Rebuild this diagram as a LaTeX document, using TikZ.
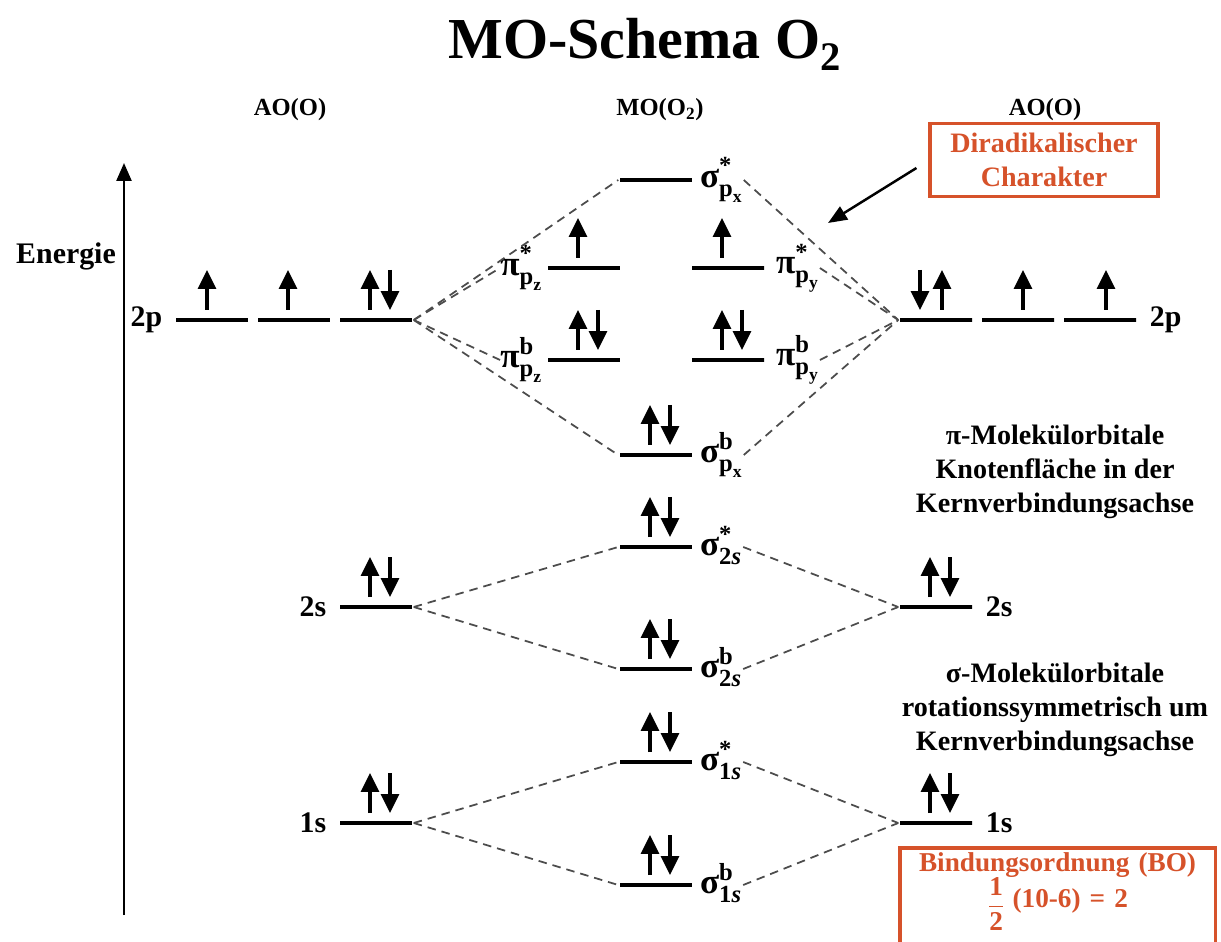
\documentclass[tikz,border=0pt]{standalone}
\usepackage{amsmath,amssymb}
\usepackage{fontspec}
\setmainfont{Liberation Serif}
\usetikzlibrary{arrows.meta}
\usetikzlibrary{positioning}

\definecolor{orred}{RGB}{214,82,42}

\tikzset{
  lvl/.style={draw, line width=2pt, minimum width=1.44cm, minimum height=0pt, inner sep=0pt},
  spin/.style={-{Triangle[width=0.36cm,length=0.38cm]}, line width=1.8pt},
  corr/.style={dash pattern=on 0.17cm off 0.12cm, line width=1pt, black!70},
  lab/.style={font=\bfseries\fontsize{17}{20}\selectfont, inner sep=1pt},
  mo/.style={font=\bfseries\fontsize{20}{22}\selectfont, inner sep=0pt},
  info/.style={font=\bfseries\fontsize{16}{19.5}\selectfont, align=center},
  redbox/.style={draw=orred, line width=1.8pt, text=orred, align=center,
    font=\bfseries\fontsize{16}{19}\selectfont}
}

% electrons: node, x offset (px)
\newcommand{\eup}[2]{\draw[spin] (#1.center) ++(#2,-10) -- ++(0,-40);}
\newcommand{\edown}[2]{\draw[spin] (#1.center) ++(#2,-50) -- ++(0,40);}
\newcommand{\epair}[1]{\eup{#1}{-6}\edown{#1}{14}}
% orbital label: symbol, upper, lower, sub-lower
\newcommand{\orb}[4]{$\text{#1}^{\text{#2}}_{\text{#3}_{\text{#4}}}$}

\begin{document}
\begin{tikzpicture}[x=0.02cm, y=-0.02cm]
        \useasboundingbox (0,0) rectangle (1221,942);

        % Headings
        \node[font=\bfseries\fontsize{33}{36}\selectfont] (title) at (645,44) {MO-Schema O\textsubscript{2}};
        \node[lab, font=\bfseries\fontsize{14}{16}\selectfont] (hAOl) at (290,110) {AO(O)};
        \node[lab, font=\bfseries\fontsize{14}{16}\selectfont] (hMO) at (660,110) {MO(O\textsubscript{2})};
        \node[lab, font=\bfseries\fontsize{14}{16}\selectfont] (hAOr) at (1045,110) {AO(O)};

        % Energy axis
        \coordinate (eBot) at (124,915);
        \coordinate (eTop) at (124,163);
        \draw[-{Triangle[width=0.3cm,length=0.36cm]}, line width=1.4pt] (eBot) -- (eTop);
        \node[lab] (energie) at (66,256) {Energie};

        % Left atom
        \node[lvl] (a2p1) at (212,320) {};
        \node[lvl] (a2p2) at (294,320) {};
        \node[lvl] (a2p3) at (376,320) {};
        \node[lvl] (a2s) at (376,607) {};
        \node[lvl] (a1s) at (376,823) {};
        \node[lab, left=0.2cm of a2p1] (ta2p) {2p};
        \node[lab, left=0.2cm of a2s] (ta2s) {2s};
        \node[lab, left=0.2cm of a1s] (ta1s) {1s};
        \eup{a2p1}{-5}
        \eup{a2p2}{-6}
        \epair{a2p3}
        \epair{a2s}
        \epair{a1s}

        % Right atom
        \node[lvl] (b2p1) at (936,320) {};
        \node[lvl] (b2p2) at (1018,320) {};
        \node[lvl] (b2p3) at (1100,320) {};
        \node[lvl] (b2s) at (936,607) {};
        \node[lvl] (b1s) at (936,823) {};
        \node[lab, right=0.2cm of b2p3] (tb2p) {2p};
        \node[lab, right=0.2cm of b2s] (tb2s) {2s};
        \node[lab, right=0.2cm of b1s] (tb1s) {1s};
        \edown{b2p1}{-16}
        \eup{b2p1}{6}
        \eup{b2p2}{5}
        \eup{b2p3}{6}
        \epair{b2s}
        \epair{b1s}

        % Molecule
        \node[lvl] (sPxA) at (656,180) {};
        \node[lvl] (pPzA) at (584,268) {};
        \node[lvl] (pPyA) at (728,268) {};
        \node[lvl] (pPzB) at (584,360) {};
        \node[lvl] (pPyB) at (728,360) {};
        \node[lvl] (sPxB) at (656,455) {};
        \node[lvl] (s2sA) at (656,547) {};
        \node[lvl] (s2sB) at (656,669) {};
        \node[lvl] (s1sA) at (656,762) {};
        \node[lvl] (s1sB) at (656,885) {};
        \node[mo, right=0.12cm of sPxA] (tsPxA) {\orb{σ}{*}{p}{x}};
        \node[mo, left=0.06cm of pPzA] (tpPzA) {\orb{π}{*}{p}{z}};
        \node[mo, right=0.2cm of pPyA] (tpPyA) {\orb{π}{*}{p}{y}};
        \node[mo, left=0.06cm of pPzB] (tpPzB) {\orb{π}{b}{p}{z}};
        \node[mo, right=0.2cm of pPyB] (tpPyB) {\orb{π}{b}{p}{y}};
        \node[mo, right=0.12cm of sPxB] (tsPxB) {\orb{σ}{b}{p}{x}};
        \node[mo, right=0.12cm of s2sA] (ts2sA) {\orb{σ}{*}{2\itshape s}{}};
        \node[mo, right=0.12cm of s2sB] (ts2sB) {\orb{σ}{b}{2\itshape s}{}};
        \node[mo, right=0.12cm of s1sA] (ts1sA) {\orb{σ}{*}{1\itshape s}{}};
        \node[mo, right=0.12cm of s1sB] (ts1sB) {\orb{σ}{b}{1\itshape s}{}};
        \eup{pPzA}{-6}
        \eup{pPyA}{-6}
        \epair{pPzB}
        \epair{pPyB}
        \epair{sPxB}
        \epair{s2sA}
        \epair{s2sB}
        \epair{s1sA}
        \epair{s1sB}

        % Correlation lines
        \draw[corr] (a2p3.east) -- (sPxA.west);
        \draw[corr] (a2p3.east) -- (tpPzA.west);
        \draw[corr] (a2p3.east) -- (tpPzB.west);
        \draw[corr] (a2p3.east) -- (sPxB.west);
        \draw[corr] (tsPxA.east) -- (b2p1.west);
        \draw[corr] (tpPyA.east) -- (b2p1.west);
        \draw[corr] (tpPyB.east) -- (b2p1.west);
        \draw[corr] (tsPxB.east) -- (b2p1.west);
        \draw[corr] (a2s.east) -- (s2sA.west);
        \draw[corr] (a2s.east) -- (s2sB.west);
        \draw[corr] (ts2sA.east) -- (b2s.west);
        \draw[corr] (ts2sB.east) -- (b2s.west);
        \draw[corr] (a1s.east) -- (s1sA.west);
        \draw[corr] (a1s.east) -- (s1sB.west);
        \draw[corr] (ts1sA.east) -- (b1s.west);
        \draw[corr] (ts1sB.east) -- (b1s.west);

        % Notes
        \node[info] (piNote) at (1055,472) {π-Molekülorbitale\\Knotenfläche in der\\Kernverbindungsachse};
        \node[info] (sigNote) at (1055,710) {σ-Molekülorbitale\\rotationssymmetrisch um\\Kernverbindungsachse};

        \node[redbox, minimum width=4.56cm, minimum height=1.46cm] (dirad) at (1044,160) {Diradikalischer\\Charakter};
        \coordinate (pnt) at (828,223);
        \draw[-{Triangle[width=0.3cm,length=0.38cm]}, line width=1.4pt] ([shift={(-12,8)}]dirad.west) -- (pnt);

        % Bond order (box runs off the bottom edge)
        \node[redbox, draw=none, anchor=north west, text width=6.1cm, inner sep=2pt,
          font=\bfseries\fontsize{15.5}{18}\selectfont]
          (bo) at (900,848) {Bindungsordnung (BO)\\[-1pt]$\displaystyle\frac{\text{1}}{\text{2}}$\;\raisebox{3pt}{(10-6) = 2}};
        \draw[draw=orred, line width=1.8pt] (bo.north west) rectangle ([yshift=-1cm]bo.south east);
    \end{tikzpicture}
\end{document}
